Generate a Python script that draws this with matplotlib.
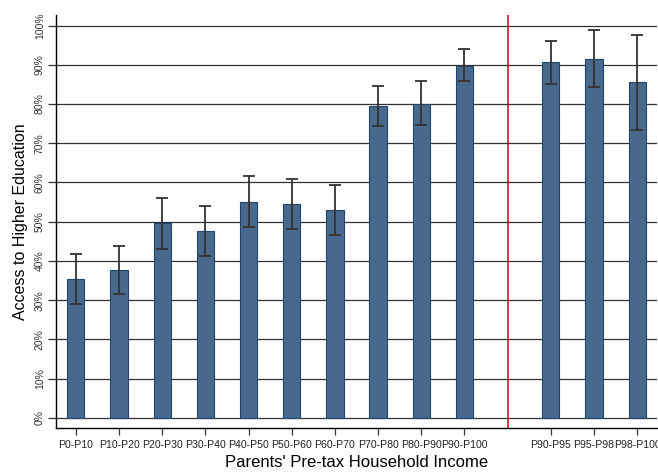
import numpy as np
import matplotlib.pyplot as plt

plt.rcParams['font.family'] = ['Liberation Sans', 'DejaVu Sans']

labels = ['P0-P10', 'P10-P20', 'P20-P30', 'P30-P40', 'P40-P50', 'P50-P60', 'P60-P70',
          'P70-P80', 'P80-P90', 'P90-P100', 'P90-P95', 'P95-P98', 'P98-P100']
xpos = [0, 1, 2, 3, 4, 5, 6, 7, 8, 9, 11, 12, 13]
values = [35.4, 37.8, 49.7, 47.7, 55.1, 54.5, 52.9, 79.5, 80.1, 89.8, 90.6, 91.6, 85.6]
ci_low = [28.9, 31.6, 43.0, 41.3, 48.7, 48.1, 46.5, 74.4, 74.6, 85.8, 85.0, 84.3, 73.4]
ci_high = [41.8, 43.8, 56.1, 54.0, 61.6, 60.9, 59.3, 84.5, 85.8, 94.0, 96.0, 99.0, 97.7]
split_at = 10

values = np.array(values)
yerr = [values - np.array(ci_low), np.array(ci_high) - values]

fig = plt.figure(figsize=(6.58, 4.72), dpi=100)
ax = fig.add_axes([56 / 658, 44 / 472, 601 / 658, 413 / 472])

ax.set_axisbelow(True)
ax.yaxis.grid(True, color='#333333', linewidth=0.9)

ax.bar(xpos, values, width=0.4, color='#48698b', edgecolor='#1f4670', linewidth=0.8)
ax.errorbar(xpos, values, yerr=yerr, fmt='none', ecolor='#333333',
            elinewidth=1.3, capsize=4, capthick=1.3)
ax.axvline(split_at, color='#d0021b', linewidth=1.1)

ax.set_xlim(-0.46, 13.46)
ax.set_ylim(-2.6, 102.7)
ax.set_yticks(np.arange(0, 101, 10))
ax.set_yticklabels(['{}%'.format(v) for v in range(0, 101, 10)], rotation=90,
                   va='center', fontsize=7.5, color='#333333')
ax.set_xticks(xpos)
ax.set_xticklabels(labels, fontsize=7.6, color='#222222')
ax.tick_params(axis='x', length=5, width=0.9, pad=4, color='#333333')
ax.tick_params(axis='y', length=6, width=0.9, pad=2, color='#333333')

for s in ['top', 'right']:
    ax.spines[s].set_visible(False)
ax.spines['left'].set_linewidth(1.0)
ax.spines['bottom'].set_linewidth(1.0)

ax.set_ylabel('Access to Higher Education', fontsize=11.5, labelpad=5)
ax.set_xlabel("Parents' Pre-tax Household Income", fontsize=12, labelpad=3)

fig.savefig('out.png', dpi=100)
